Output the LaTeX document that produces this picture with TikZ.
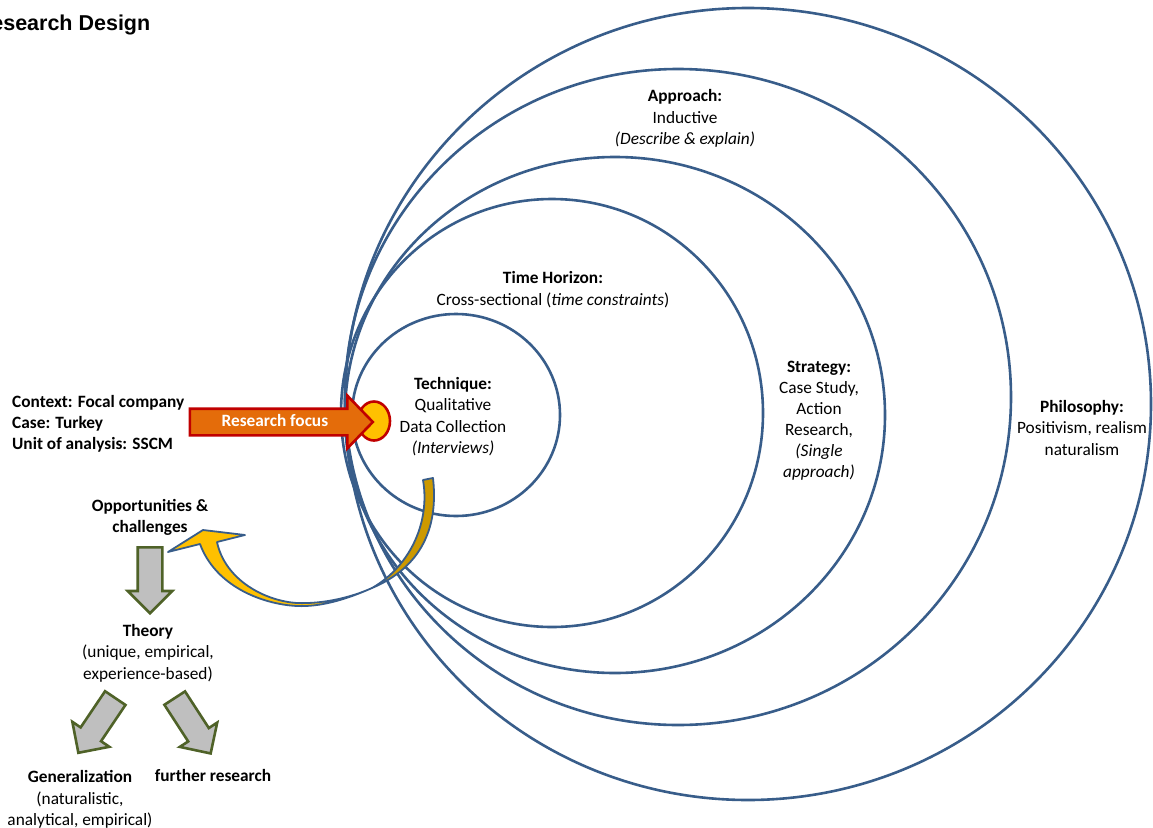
\documentclass[tikz,border=0pt]{standalone}
\usepackage{fontspec}
\setmainfont{Carlito}
\newfontfamily\titlefont{Liberation Sans}
\usetikzlibrary{shapes.arrows,shapes.geometric,positioning}

\definecolor{ringblue}{HTML}{385D8A}
\definecolor{focusorange}{HTML}{E46C0A}
\definecolor{focusred}{HTML}{C00000}
\definecolor{dotyellow}{HTML}{FFC000}
\definecolor{bandgold}{HTML}{CC9900}
\definecolor{stepgray}{HTML}{BFBFBF}
\definecolor{stepgreen}{HTML}{4F6228}

\begin{document}
\begin{tikzpicture}[x=1pt, y=-1pt, >=latex]
	\tikzstyle{ring} = [draw=ringblue, line width=2.6pt]
	\tikzstyle{txt} = [align=center, anchor=base, inner sep=0pt, font=\fontsize{17.3}{21.5}\selectfont]
	\tikzstyle{band} = [draw=ringblue, line width=1.8pt, line join=round]
	\tikzstyle{stepper} = [single arrow, draw=stepgreen, fill=stepgray, line width=2.6pt, inner xsep=0pt, inner ysep=11pt, minimum height=66pt, single arrow head extend=10pt, single arrow tip angle=90, anchor=tail]

	\useasboundingbox (0,0) rectangle (1153,827);

	\node [anchor=base east, inner sep=0pt, font=\titlefont\bfseries\fontsize{21.5}{24}\selectfont] (title) at (150.5,30) {Research Design};

	% the nested rings
	\draw [ring] (748,404) ellipse [x radius=403, y radius=396];
	\draw [ring] (678,397) ellipse [x radius=333, y radius=328];
	\draw [ring] (615,415) ellipse [x radius=270, y radius=258];
	\draw [ring] (552,413) ellipse [x radius=211, y radius=214];
	\draw [ring] (456,415) ellipse [x radius=104, y radius=101];

	% base of a node = baseline of its last line
	\node [txt] (approach) at (685,144.5) {\textbf{Approach:}\\ Inductive\\ \textit{(Describe \& explain)}};
	\node [txt] (horizon) at (553,305) {\textbf{Time Horizon:}\\ Cross-sectional (\textit{time constraints})};
	\node [txt] (technique) at (453,453.5) {\textbf{Technique:}\\ Qualitative\\ Data Collection\\ \textit{(Interviews)}};
	\node [txt, font=\fontsize{17.3}{20.9}\selectfont] (strategy) at (819,477) {\textbf{Strategy:}\\ Case Study,\\ Action\\ Research,\\ \textit{(Single}\\ \textit{approach)}};
	\node [txt] (philosophy) at (1082,455) {\textbf{Philosophy:}\\ Positivism, realism\\ naturalism};

	% curved arrow back to the findings
	\filldraw [band, fill=bandgold] (423,480) .. controls (430,520) and (412,565) .. (372,588)
		.. controls (410,572) and (440,540) .. (433,478) -- cycle;
	\filldraw [band, fill=dotyellow] (372,588) .. controls (345,600) and (320,607) .. (297,606)
		.. controls (260,604) and (215,585) .. (200,544) -- (168,552) -- (203,530) -- (245,535) -- (217,542)
		.. controls (225,580) and (265,601) .. (297,603) .. controls (322,604) and (350,598) .. (372,588) -- cycle;

	\node [txt, anchor=base west, align=left, font=\bfseries\fontsize{17.3}{21}\selectfont] (context) at (12,449.5) {Context: Focal company\\ Case: Turkey\\ Unit of analysis: SSCM};
	\node [ellipse, draw=focusred, fill=dotyellow, line width=2.6pt, minimum width=32pt, minimum height=39pt, inner sep=0pt] (dot) at (374,421) {};
	\node [single arrow, draw=focusred, fill=focusorange, line width=2.6pt, text=white, font=\bfseries\fontsize{17.3}{20}\selectfont, text height=11pt, text depth=3pt, inner ysep=5pt, minimum height=183pt, single arrow head extend=13pt, single arrow tip angle=92, anchor=tail] (focus) at (188.5,422) {Research focus};

	\node [txt, font=\bfseries\fontsize{17.3}{21}\selectfont] (chances) at (150,532.5) {Opportunities \&\\ challenges};
	\node [stepper, rotate=-90] (down) at (150,546) {};
	\node [txt] (theory) at (148,679) {\textbf{Theory}\\ (unique, empirical,\\ experience-based)};
	\node [stepper, rotate=236] (left) at (116,697) {};
	\node [stepper, rotate=-57] (right) at (174,697) {};
	\node [txt] (general) at (80,825.5) {\textbf{Generalization}\\ (naturalistic,\\ analytical, empirical)};
	\node [txt, font=\bfseries\fontsize{17.3}{21}\selectfont] (further) at (213,781.5) {further research};
\end{tikzpicture}
\end{document}
